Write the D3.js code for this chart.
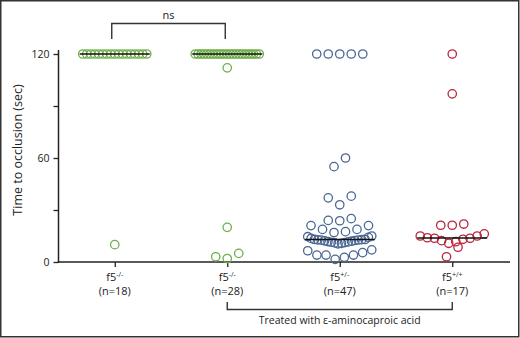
<!DOCTYPE html>
<html><head><meta charset="utf-8">
<script src="https://cdn.jsdelivr.net/npm/d3@7"></script>
<style>
body{margin:0;background:#fff}
svg{display:block}
text{font-family:"Open Sans",sans-serif;fill:#222}
</style>
</head><body>
<svg id="chart" width="520" height="338"></svg>
<script>
// ---------- data ----------
const categories = ["g1", "g2", "g3", "g4"];
const genotypeBase = ["f5", "f5", "f5", "f5"];
const genotypeSup = ["-/-", "-/-", "+/-", "+/+"];
const sampleLabels = ["(n=18)", "(n=28)", "(n=47)", "(n=17)"];
const yTicks = [0, 30, 60, 90, 120];
const yTickLabels = ["0", "", "60", "", "120"];
const medians = [120, 120, 13, 13.8];

const group1 = [120,120,120,120,120,120,120,120,120,120,120,120,120,120,120,120,120, 10];
const group2 = [120,120,120,120,120,120,120,120,120,120,120,120,120,120,120,120,120,120,120,120,120,120,120,
                112, 20, 5, 2, 3];
const group3 = [120,120,120,120,120, 60, 55, 38, 37, 33, 25, 24, 23.8, 21, 21, 18.8, 18.8, 17.5, 17,
                10.5, 10.8, 11, 11.2, 11.4, 11.6, 11.8, 12, 12.2, 12.4, 12.6, 12.7, 12.8, 12.9, 13, 13, 13.6, 14.2, 14.6, 15,
                1.5, 2.7, 4, 4, 4, 5.4, 6.5, 7];
const group4 = [120, 97, 21.9, 21.2, 21.2, 16.2, 15, 15, 14, 13.7, 13.7, 13.1, 12.3, 11.7, 10.8, 8.5, 3];
const groups = [group1, group2, group3, group4];
const colors = ["#6fae4a", "#6fae4a", "#4a6795", "#b9283d"];

const sigLabel = "ns";
const treatLabel = "Treated with ε-aminocaproic acid";

// ---------- setup ----------
const svg = d3.select("#chart");
const x = d3.scalePoint().domain(categories).range([58.5, 508.5]).padding(0.5);
const y = d3.scaleLinear().domain([0, 120]).range([262, 54]);

// frame
svg.append("rect").attr("x", 0.75).attr("y", 0.75).attr("width", 518).attr("height", 336)
  .attr("fill", "none").attr("stroke", "#333").attr("stroke-width", 1.5);

// y axis
const ya = svg.append("g").attr("transform", "translate(58.5,0)")
  .call(d3.axisLeft(y).tickValues(yTicks).tickFormat((d, i) => yTickLabels[i]).tickSize(5).tickSizeOuter(0).tickPadding(4));
ya.select(".domain").remove();
ya.selectAll(".tick line").attr("stroke", "#222").attr("stroke-width", 1.3);
ya.selectAll("text").style("font-family", '"Open Sans",sans-serif').style("font-size", "10.5px").attr("fill", "#222");
svg.append("line").attr("x1", 58.5).attr("x2", 58.5).attr("y1", 50).attr("y2", 262.7)
  .attr("stroke", "#222").attr("stroke-width", 1.5);

// x axis
const xa = svg.append("g").attr("transform", "translate(0,262)")
  .call(d3.axisBottom(x).tickSize(5).tickSizeOuter(0).tickFormat(() => ""));
xa.select(".domain").remove();
xa.selectAll(".tick line").attr("stroke", "#222").attr("stroke-width", 1.3);
svg.append("line").attr("x1", 57.8).attr("x2", 510).attr("y1", 262).attr("y2", 262)
  .attr("stroke", "#222").attr("stroke-width", 1.5);

// category labels
categories.forEach((c, i) => {
  const t = svg.append("text").attr("x", x(c)).attr("y", 281).attr("text-anchor", "middle")
    .style("font-size", "11px");
  t.append("tspan").text(genotypeBase[i]);
  t.append("tspan").attr("dy", -4).style("font-size", "7px").text(genotypeSup[i]);
  svg.append("text").attr("x", x(c)).attr("y", 295).attr("text-anchor", "middle")
    .style("font-size", "11px").text(sampleLabels[i]);
});

// y title
svg.append("text").attr("transform", "translate(22,150) rotate(-90)").attr("text-anchor", "middle")
  .style("font-size", "12.5px").text("Time to occlusion (sec)");

// ---------- points ----------
function layoutRows(vals) {
  const s = vals.slice().sort((a, b) => a - b);
  const rows = []; let cur = null;
  s.forEach(v => {
    if (!cur || v - cur.start > 6) { cur = { start: v, vals: [] }; rows.push(cur); }
    cur.vals.push(v);
  });
  const out = [];
  rows.forEach(r => {
    const n = r.vals.length;
    const sp = n > 1 ? Math.min(11.5, 64 / (n - 1)) : 0;
    const slots = d3.range(n).map(i => (i - (n - 1) / 2) * sp);
    slots.sort((a, b) => Math.abs(a) - Math.abs(b) || a - b);
    r.vals.forEach((v, k) => out.push({ v, dx: slots[k] }));
  });
  return out;
}

groups.forEach((vals, i) => {
  const pts = layoutRows(vals);
  svg.append("g").selectAll("circle").data(pts).join("circle")
    .attr("cx", d => x(categories[i]) + d.dx)
    .attr("cy", d => y(d.v))
    .attr("r", 4.2)
    .attr("fill", "none")
    .attr("stroke", colors[i])
    .attr("stroke-width", 1.3);
});

// medians
svg.append("g").selectAll("line").data(medians).join("line")
  .attr("x1", (d, i) => x(categories[i]) - 35)
  .attr("x2", (d, i) => x(categories[i]) + 35)
  .attr("y1", d => y(d)).attr("y2", d => y(d))
  .attr("stroke", "#111").attr("stroke-width", 1.5);

// significance bracket
const bx1 = x(categories[0]) - 3, bx2 = x(categories[1]) - 2;
svg.append("path").attr("d", `M${bx1},39V23.5H${bx2}V39`)
  .attr("fill", "none").attr("stroke", "#333").attr("stroke-width", 1.4);
svg.append("text").attr("x", (bx1 + bx2) / 2).attr("y", 19).attr("text-anchor", "middle")
  .style("font-size", "11px").text(sigLabel);

// treatment bracket
const tx1 = x(categories[1]), tx2 = x(categories[3]);
svg.append("path").attr("d", `M${tx1},302V309.5H${tx2}V302`)
  .attr("fill", "none").attr("stroke", "#333").attr("stroke-width", 1.4);
svg.append("text").attr("x", (tx1 + tx2) / 2).attr("y", 324).attr("text-anchor", "middle")
  .style("font-size", "10.5px").text(treatLabel);
</script>
</body></html>
